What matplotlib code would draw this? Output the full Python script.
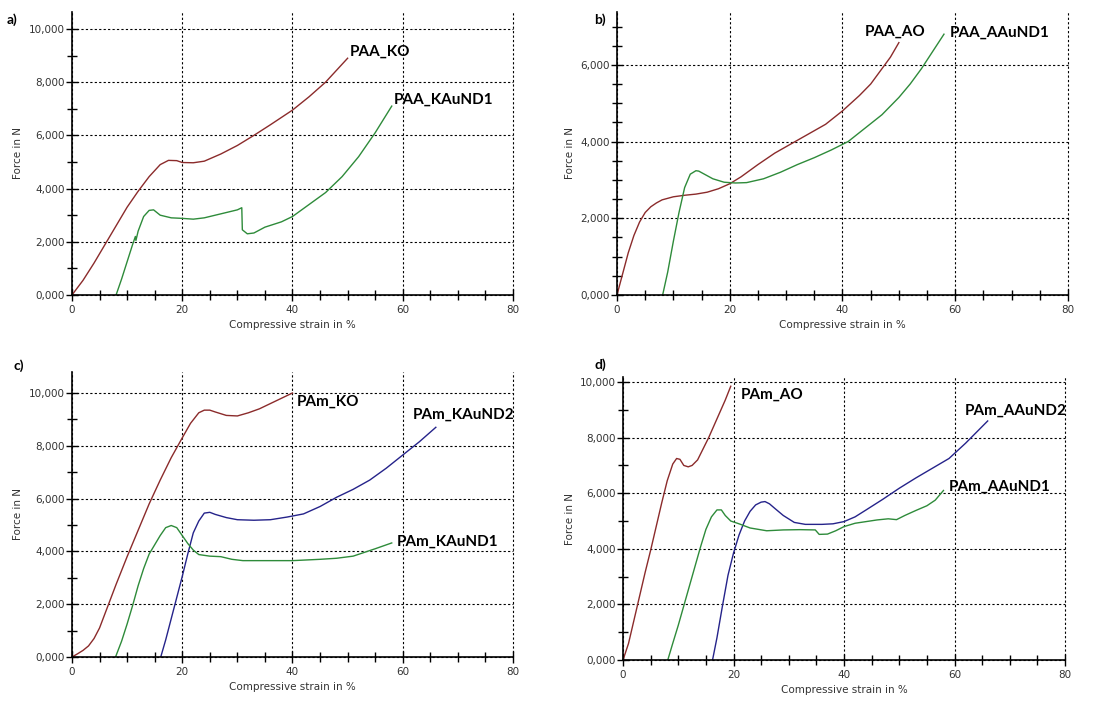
import matplotlib.pyplot as plt
from matplotlib.ticker import MultipleLocator

# ---- data (strain in %, force in N) ----
# a) PAA, K
a_ko_x = [0, 2, 4, 6, 8, 10, 12, 14, 16, 17.5, 19, 20, 22, 24, 27, 30, 33, 36, 40, 43, 46, 48, 50]
a_ko_y = [0, 550, 1200, 1900, 2600, 3300, 3900, 4450, 4900, 5060, 5050, 4980, 4970, 5030, 5300,
          5620, 6000, 6400, 6950, 7450, 8000, 8450, 8900]
a_nd1_x = [8, 9, 10, 11, 11.5, 11.6, 12, 13, 14, 14.8, 16, 18, 20, 22, 24, 27, 30, 30.8, 30.9,
           31.8, 33, 35, 38, 40, 43, 46, 49, 52, 55, 58]
a_nd1_y = [0, 600, 1250, 1900, 2200, 2050, 2400, 2950, 3180, 3200, 3000, 2900, 2880, 2850, 2900,
           3050, 3200, 3280, 2450, 2300, 2330, 2550, 2750, 2950, 3400, 3850, 4450, 5200, 6100, 7100]

# b) PAA, A
b_ao_x = [0, 1, 2, 3, 4, 5, 6, 7, 8, 10, 12, 14, 16, 18, 20, 22, 25, 28, 31, 34, 37, 40, 43, 45,
          47, 48.5, 50]
b_ao_y = [0, 550, 1100, 1550, 1900, 2150, 2300, 2400, 2480, 2560, 2600, 2630, 2680, 2770, 2900,
          3080, 3400, 3700, 3950, 4200, 4450, 4800, 5200, 5500, 5900, 6200, 6580]
b_nd1_x = [8.1, 9, 10, 11, 12, 13, 14, 14.5, 15.5, 17, 19, 21, 23, 26, 29, 32, 35, 38, 41, 44,
           47, 50, 52, 54, 56, 58]
b_nd1_y = [0, 600, 1400, 2150, 2800, 3150, 3240, 3230, 3150, 3030, 2940, 2920, 2930, 3030, 3200,
           3400, 3580, 3780, 4000, 4350, 4700, 5150, 5500, 5900, 6350, 6800]

# c) PAm, K
c_ko_x = [0, 1, 2, 3, 4, 5, 6, 8, 10, 12, 14, 16, 18, 20, 21.5, 23, 24, 25, 26, 28, 30, 32, 34,
          36, 38, 40]
c_ko_y = [0, 120, 250, 420, 700, 1100, 1650, 2750, 3800, 4800, 5800, 6700, 7550, 8300, 8850,
          9250, 9350, 9350, 9280, 9150, 9130, 9250, 9400, 9600, 9800, 10000]
c_nd1_x = [7.9, 9, 10, 11, 12, 13, 14, 15, 16, 17, 18, 19, 20, 21, 22, 23, 25, 27, 29, 31, 35,
           40, 45, 48, 51, 53, 55, 58]
c_nd1_y = [0, 600, 1250, 1950, 2700, 3350, 3900, 4250, 4600, 4900, 4980, 4900, 4600, 4300, 4050,
           3880, 3820, 3800, 3700, 3650, 3650, 3650, 3700, 3740, 3820, 3960, 4100, 4320]
c_nd2_x = [16.1, 17, 18, 19, 20, 21, 22, 23, 24, 25, 26, 28, 30, 33, 36, 39, 42, 45, 48, 51, 54,
           57, 60, 63, 66]
c_nd2_y = [0, 650, 1450, 2250, 3050, 3900, 4700, 5150, 5450, 5480, 5400, 5280, 5200, 5180, 5200,
           5300, 5420, 5700, 6050, 6350, 6700, 7150, 7650, 8150, 8700]

# d) PAm, A
d_ao_x = [0, 1, 2, 3, 4, 5, 6, 7, 8, 9, 9.7, 10.3, 11, 11.8, 12.5, 13.5, 14.5, 15.5, 16.5, 17.5,
          18.5, 19.5]
d_ao_y = [0, 600, 1450, 2300, 3150, 3950, 4800, 5650, 6450, 7050, 7250, 7220, 7000, 6950, 7000,
          7200, 7600, 8000, 8450, 8900, 9350, 9850]
d_nd1_x = [8.1, 9, 10, 11, 12, 13, 14, 15, 16, 17, 17.8, 18.5, 19.5, 21, 23, 26, 29, 32, 34.8,
           35.5, 37, 38.5, 40, 42, 44, 46, 48, 49.5, 51, 53, 55, 56.5, 58]
d_nd1_y = [0, 600, 1250, 1950, 2650, 3350, 4050, 4700, 5150, 5400, 5400, 5200, 5000, 4900, 4750,
           4650, 4680, 4690, 4680, 4520, 4530, 4650, 4800, 4920, 4980, 5040, 5080, 5050, 5200,
           5380, 5550, 5750, 6100]
d_nd2_x = [16.2, 17, 18, 19, 20, 21, 22, 23, 24, 25, 25.7, 26.5, 27.5, 29, 31, 33, 36, 38, 40, 42,
           44, 47, 50, 53, 56, 59, 62, 64, 66]
d_nd2_y = [0, 800, 1950, 3050, 3850, 4500, 5000, 5350, 5580, 5680, 5700, 5620, 5450, 5200, 4950,
           4880, 4880, 4900, 4980, 5150, 5400, 5780, 6180, 6550, 6900, 7250, 7800, 8200, 8600]

brown = "#8b2b2b"
green = "#2e8b3a"
blue = "#25238a"

# panel setup: axes position, y top, tick steps, letter and where it goes
panels = [
    dict(pos=[0.0655, 0.5798, 0.4013, 0.4032], ytop=10640, ymaj=2000, ymin=1000,
         tag="a)", tagxy=(0.006, 0.972),
         series=[(a_ko_x, a_ko_y, brown, "PAA_KO", 50.3, 9150),
                 (a_nd1_x, a_nd1_y, green, "PAA_KAuND1", 58.4, 7350)]),
    dict(pos=[0.5614, 0.5798, 0.4104, 0.4032], ytop=7380, ymaj=2000, ymin=500,
         tag="b)", tagxy=(0.541, 0.972),
         series=[(b_ao_x, b_ao_y, brown, "PAA_AO", 43.9, 6870),
                 (b_nd1_x, b_nd1_y, green, "PAA_AAuND1", 59.1, 6830)]),
    dict(pos=[0.0655, 0.0641, 0.4013, 0.4060], ytop=10795, ymaj=2000, ymin=1000,
         tag="c)", tagxy=(0.012, 0.479),
         series=[(c_ko_x, c_ko_y, brown, "PAm_KO", 40.8, 9680),
                 (c_nd2_x, c_nd2_y, blue, "PAm_KAuND2", 61.9, 9180),
                 (c_nd1_x, c_nd1_y, green, "PAm_KAuND1", 58.9, 4370)]),
    dict(pos=[0.5669, 0.0598, 0.4022, 0.4031], ytop=10180, ymaj=2000, ymin=1000,
         tag="d)", tagxy=(0.541, 0.480),
         series=[(d_ao_x, d_ao_y, brown, "PAm_AO", 21.3, 9545),
                 (d_nd2_x, d_nd2_y, blue, "PAm_AAuND2", 61.8, 8960),
                 (d_nd1_x, d_nd1_y, green, "PAm_AAuND1", 58.9, 6250)]),
]

fig = plt.figure(figsize=(10.99, 7.02), dpi=100)

for p in panels:
    ax = fig.add_axes(p["pos"])
    for xs, ys, col, name, lx, ly in p["series"]:
        ax.plot(xs, ys, color=col, lw=1.0)
        ax.text(lx, ly, name, fontsize=11, fontweight="bold", family=["Lato", "DejaVu Sans"],
                va="center", ha="left", color="black")

    ax.set_xlim(0, 80)
    ax.set_ylim(0, p["ytop"])
    ax.xaxis.set_major_locator(MultipleLocator(20))
    ax.xaxis.set_minor_locator(MultipleLocator(5))
    ax.yaxis.set_minor_locator(MultipleLocator(p["ymin"]))
    yt = list(range(0, int(p["ytop"]) + 1, p["ymaj"]))
    ax.set_yticks(yt)
    ax.set_yticklabels(["{:.3f}".format(v / 1000).replace(".", ",") for v in yt])

    ax.tick_params(which="both", direction="inout", color="black", labelsize=7.5,
                   labelcolor="#333333")
    ax.tick_params(which="major", length=8, width=1)
    ax.tick_params(which="minor", length=7, width=1)
    ax.tick_params(axis="y", pad=1)

    ax.grid(True, which="major", color="black", linestyle=(0, (2, 2)), linewidth=0.8)
    # keep the grid line at x=80 whole, it sits on the axes edge
    for gl in ax.get_xgridlines() + ax.get_ygridlines():
        gl.set_clip_on(False)
    for s in ["top", "right"]:
        ax.spines[s].set_visible(False)
    for s in ["left", "bottom"]:
        ax.spines[s].set_linewidth(1.2)
    ax.set_axisbelow(True)

    ax.set_xlabel("Compressive strain in %", fontsize=7.5, color="#333333", labelpad=3)
    ax.set_ylabel("Force in N", fontsize=7.5, color="#333333", labelpad=4)

    fig.text(p["tagxy"][0], p["tagxy"][1], p["tag"], fontsize=10, fontweight="bold",
             family=["Lato", "DejaVu Sans"], va="center", ha="left")

fig.savefig("out.png", dpi=100)
